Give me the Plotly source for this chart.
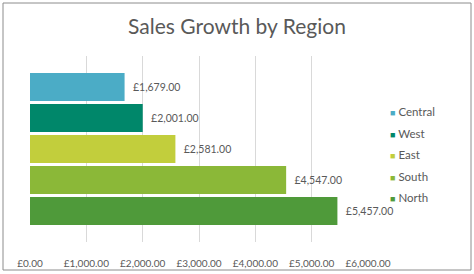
import plotly.graph_objects as go

regions = ["Central", "West", "East", "South", "North"]
sales = [1679, 2001, 2581, 4547, 5457]
colors = ["#4BACC6", "#00876A", "#C2CE3C", "#8BB838", "#4F9A3A"]
x_ticks = [0, 1000, 2000, 3000, 4000, 5000, 6000]
x_tick_labels = [f"£{v:,.2f}" for v in x_ticks]

font_family = "Lato, 'Open Sans', sans-serif"
text_color = "#595959"

fig = go.Figure()
for r, v, c in zip(regions, sales, colors):
    fig.add_trace(go.Bar(
        y=[r], x=[v], orientation="h",
        marker=dict(color=c, line=dict(width=0)),
        text=[f"  £{v:,.2f}"], textposition="outside",
        textfont=dict(size=10.5, color=text_color, family=font_family),
        cliponaxis=False, showlegend=False, name=r,
    ))
for r, c in zip(regions, colors):
    fig.add_trace(go.Scatter(
        x=[None], y=[None], mode="markers",
        name=f'<span style="color:{c};font-size:9px">■</span> {r}',
        marker=dict(symbol="square", size=6, color="rgba(0,0,0,0)"),
        legendgroup=r, showlegend=True,
    ))

fig.update_layout(
    width=474, height=274,
    margin=dict(l=30, r=106, t=56, b=32, autoexpand=False),
    paper_bgcolor="white", plot_bgcolor="white",
    font=dict(color=text_color, family=font_family),
    bargap=0.1,
    title=dict(text="Sales Growth by Region", x=0.5, xref="container", xanchor="center",
               y=1 - 27 / 274, yanchor="middle",
               font=dict(size=21, color=text_color, family=font_family)),
    xaxis=dict(range=[0, 6000], tickvals=x_ticks, ticktext=x_tick_labels,
               showgrid=True, gridcolor="#D9D9D9", gridwidth=1,
               zeroline=False, showline=False, ticks="",
               automargin=False, ticklabelstandoff=14,
               tickfont=dict(size=10, color=text_color, family=font_family)),
    yaxis=dict(categoryorder="array", categoryarray=regions[::-1],
               range=[-1, 5], showticklabels=False, showgrid=False,
               zeroline=False, showline=False, ticks="", automargin=False),
    legend=dict(x=(350 - 30) / 338, xanchor="left", y=(242 - 97) / 186, yanchor="top",
                traceorder="grouped", tracegroupgap=2.5,
                font=dict(size=11.5, color=text_color, family=font_family),
                itemwidth=30, bgcolor="rgba(0,0,0,0)"),
    shapes=[dict(type="rect", xref="paper", yref="paper",
                 x0=(3 - 30) / 338, x1=(471 - 30) / 338,
                 y0=(242 - 270) / 186, y1=(242 - 3) / 186,
                 line=dict(color="#8C8C8C", width=1), fillcolor="rgba(0,0,0,0)",
                 layer="below")],
)

fig.write_html("out.html")
